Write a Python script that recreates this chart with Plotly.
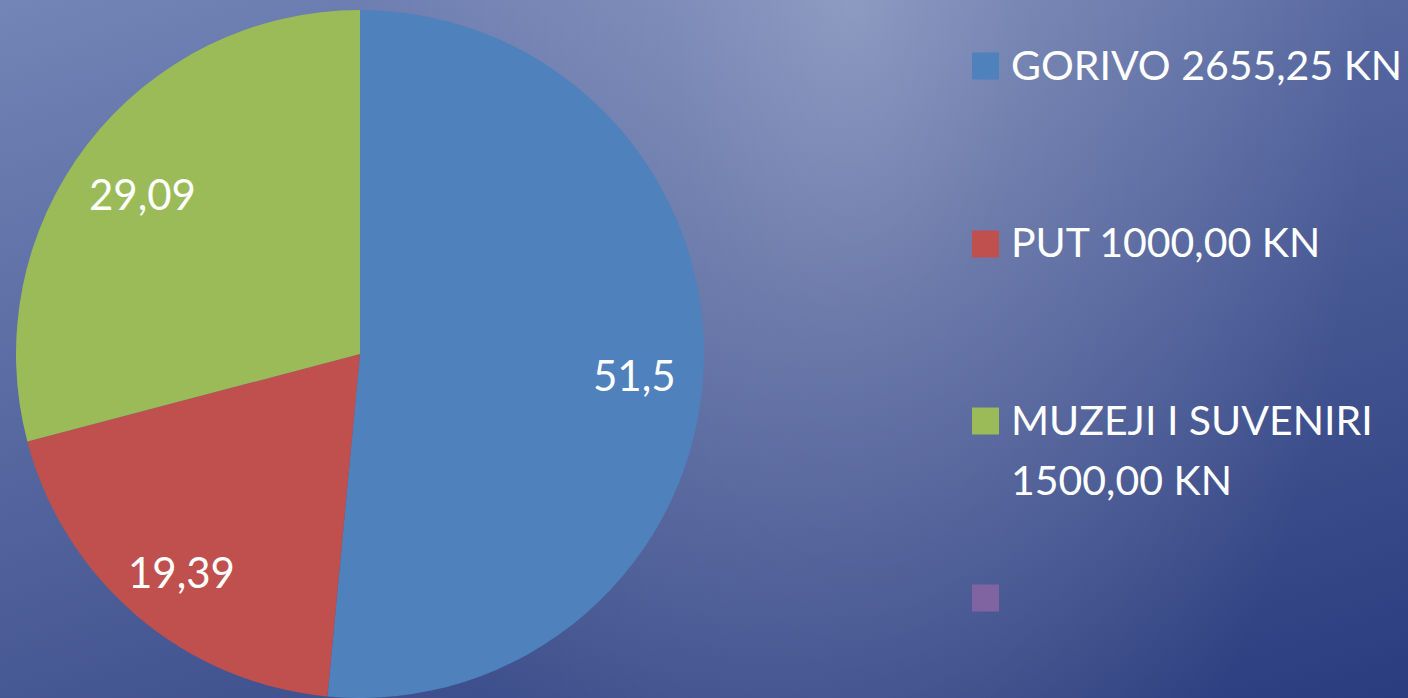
import base64
import math
import plotly.graph_objects as go

# ---- data ----
categories = ["GORIVO 2655,25 KN", "PUT 1000,00 KN", "MUZEJI I SUVENIRI<br>1500,00 KN", ""]
shares = [51.5, 19.39, 29.09, 0]
share_labels = ["51,5", "19,39", "29,09", ""]
colors = ["#4F81BD", "#C0504D", "#9BBB59", "#8064A2"]

W, H = 1408, 698
FONT = "Lato"

svg = f"""<svg xmlns='http://www.w3.org/2000/svg' width='{W}' height='{H}' viewBox='0 0 {W} {H}' preserveAspectRatio='none'>
<defs>
<linearGradient id='base' gradientUnits='userSpaceOnUse' x1='0' y1='0' x2='329' y2='1039'>
<stop offset='0' stop-color='#7384B6'/>
<stop offset='1' stop-color='#2A3C7E'/>
</linearGradient>
<radialGradient id='hl' gradientUnits='userSpaceOnUse' cx='0' cy='0' r='1'
 gradientTransform='translate(850,0) scale(520,1000)'>
<stop offset='0' stop-color='#FFFFFF' stop-opacity='0.28'/>
<stop offset='0.35' stop-color='#FFFFFF' stop-opacity='0.16'/>
<stop offset='0.7' stop-color='#FFFFFF' stop-opacity='0.08'/>
<stop offset='1' stop-color='#FFFFFF' stop-opacity='0'/>
</radialGradient>
</defs>
<rect width='{W}' height='{H}' fill='url(#base)'/>
<rect width='{W}' height='{H}' fill='url(#hl)'/></svg>"""
bg = "data:image/svg+xml;base64," + base64.b64encode(svg.encode()).decode()

cx, cy, R = 360, 354, 344
fig = go.Figure(go.Pie(
    labels=categories,
    values=shares,
    marker=dict(colors=colors, line=dict(width=0)),
    sort=False,
    direction="clockwise",
    rotation=0,
    textinfo="none",
    showlegend=False,
    hoverinfo="label+value",
    domain=dict(x=[(cx - R) / W, (cx + R) / W], y=[1 - (cy + R) / H, 1 - (cy - R) / H]),
))

annotations = []
shapes = []

# slice value labels placed along each slice's bisector
total = sum(shares)
start = 0.0
for lab, v in zip(share_labels, shares):
    if v > 0:
        mid = (start + v / 2) / total * 2 * math.pi
        px = cx + 0.8 * R * math.sin(mid)
        py = cy - 0.8 * R * math.cos(mid) + 8
        annotations.append(dict(xref="paper", yref="paper", x=px / W, y=1 - py / H,
                                xanchor="center", yanchor="middle", showarrow=False,
                                text=lab, font=dict(family=FONT, size=42, color="white")))
    start += v

# custom legend built from the category lists
legend_y = [66, 244, 421, 598]
for name, col, yc in zip(categories, colors, legend_y):
    shapes.append(dict(type="rect", xref="paper", yref="paper",
                       x0=972 / W, x1=999 / W, y0=1 - (yc + 13.5) / H, y1=1 - (yc - 13.5) / H,
                       fillcolor=col, line=dict(width=0)))
    for i, line in enumerate(name.split("<br>")):
        if line:
            annotations.append(dict(xref="paper", yref="paper", x=1009 / W,
                                    y=1 - (yc - 2 + 60 * i) / H,
                                    xanchor="left", yanchor="middle", align="left", showarrow=False,
                                    text=line, font=dict(family=FONT, size=41, color="white")))

fig.update_layout(
    width=W, height=H,
    margin=dict(l=0, r=0, t=0, b=0),
    paper_bgcolor="#4A5C95",
    plot_bgcolor="rgba(0,0,0,0)",
    images=[dict(source=bg, xref="paper", yref="paper", x=0, y=1, sizex=1, sizey=1,
                 xanchor="left", yanchor="top", sizing="stretch", layer="below")],
    shapes=shapes,
    annotations=annotations,
)

fig.write_html("out.html", config={"displayModeBar": False},
               post_script="document.body.style.margin='0';document.body.style.overflow='hidden';")
